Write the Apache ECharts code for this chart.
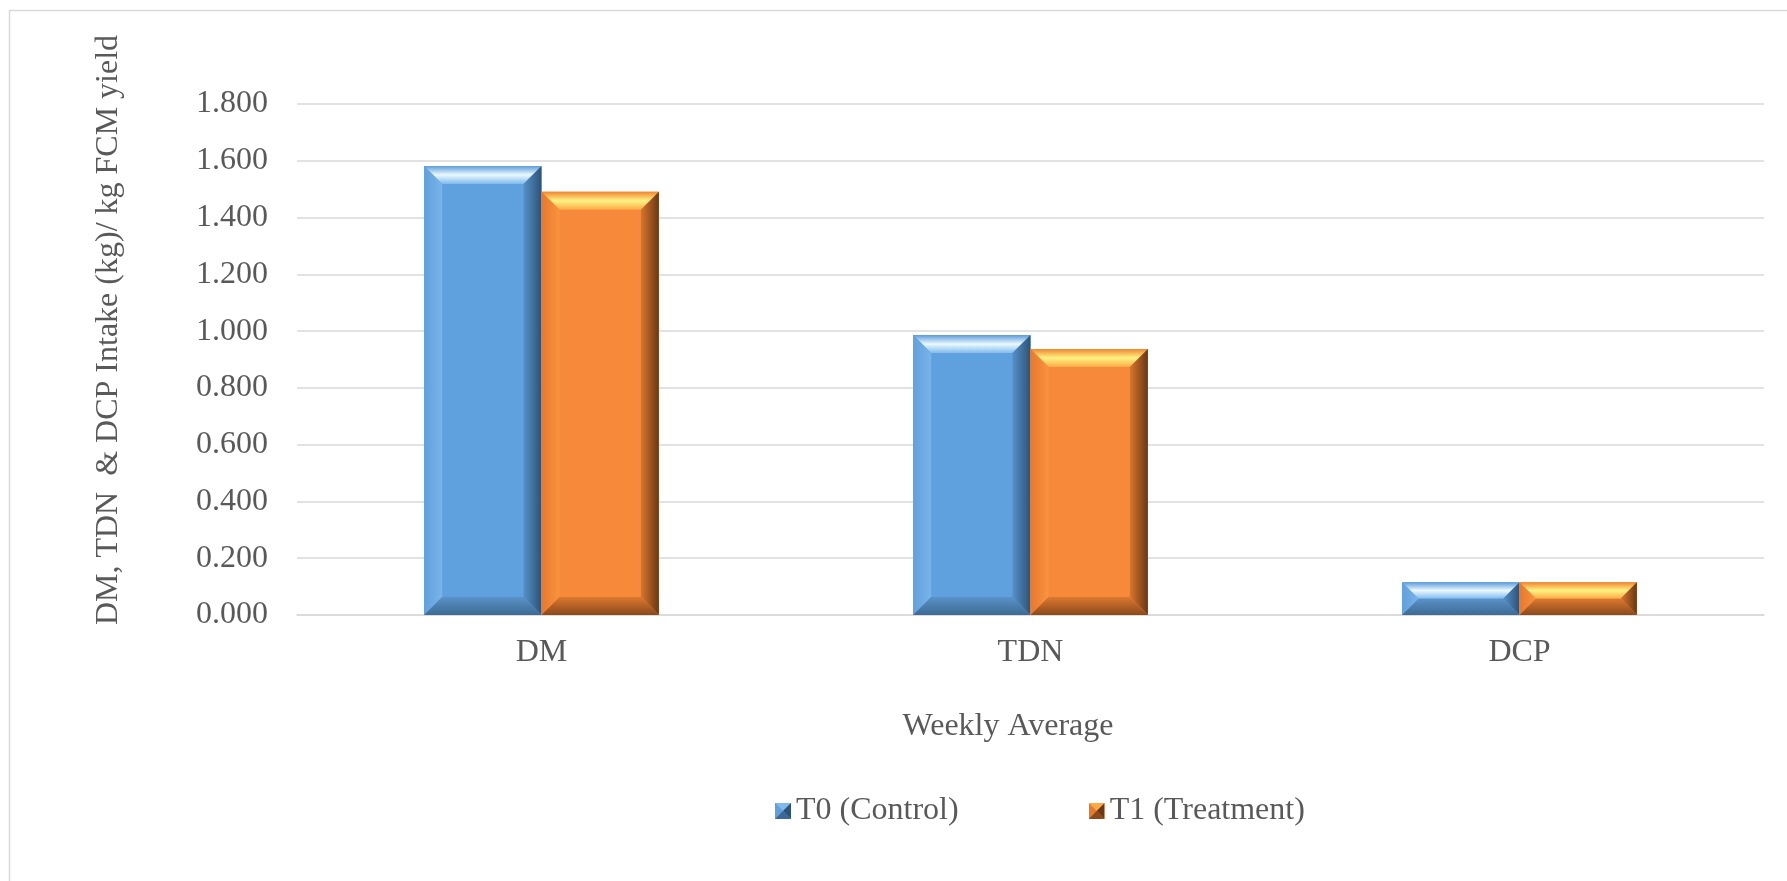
<!DOCTYPE html>
<html>
<head>
<meta charset="utf-8">
<title>DM, TDN & DCP Intake per kg FCM yield</title>
<script src="https://cdn.jsdelivr.net/npm/echarts@6/dist/echarts.min.js"></script>
<style>
  html, body { margin: 0; padding: 0; background: #ffffff; }
  #chart { width: 1787px; height: 881px; }
</style>
</head>
<body>
<div id="chart"></div>
<script>
// Nutrient intake per kg FCM yield, weekly average
const categories = ['DM', 'TDN', 'DCP'];
const seriesNames = ['T0 (Control)', 'T1 (Treatment)'];
const t0Values = [1.582, 0.986, 0.115];
const t1Values = [1.491, 0.937, 0.115];
const yTicks = [0, 0.2, 0.4, 0.6, 0.8, 1.0, 1.2, 1.4, 1.6, 1.8];

const FONT = '"Liberation Serif", "Times New Roman", serif';
const FS = 32;
const TEXT = '#595959';
const GRID = '#D9D9D9';

// Bevel palette per series: face, top, left, right, bottom
const palettes = [
  {
    face: '#5FA0DF',
    top: ['#5C9CDA', '#EAF9FF', '#80BAEC'],
    left: ['#62A0DC', '#78B4EA'],
    right: ['#5690C8', '#2C5378'],
    bottom: ['#5A92C8', '#3D6A94'],
    legend: '#5B9BD5'
  },
  {
    face: '#F7893A',
    top: ['#F08632', '#FFF283', '#FBAA45'],
    left: ['#E8782D', '#F99341'],
    right: ['#D9752E', '#6A3814'],
    bottom: ['#DD782F', '#8A4A1C'],
    legend: '#ED7D31'
  }
];

const BAR_FRAC = 0.24;   // share of a category band taken by one bar
const BEVEL = 18;

function lin(x0, y0, x1, y1, stops) {
  const n = stops.length - 1;
  return new echarts.graphic.LinearGradient(x0, y0, x1, y1,
    stops.map((c, i) => ({ offset: i / n, color: c })));
}

function makeRender(si) {
  const p = palettes[si];
  return function (params, api) {
    const idx = api.value(0);
    const v = api.value(1);
    const base = api.coord([idx, 0]);
    const top = api.coord([idx, v]);
    const band = api.size([1, 0])[0];
    const w = band * BAR_FRAC;
    const x0 = base[0] - w + si * w;
    const x1 = x0 + w;
    const yt = top[1];
    const yb = base[1];
    const h = yb - yt;
    const b = Math.min(BEVEL, h / 2, w / 2);
    return {
      type: 'group',
      children: [
        { type: 'rect', shape: { x: x0, y: yt, width: w, height: h }, style: { fill: p.face } },
        { type: 'polygon', shape: { points: [[x0, yt], [x1, yt], [x1 - b, yt + b], [x0 + b, yt + b]] },
          style: { fill: lin(0, 0, 0, 1, p.top) } },
        { type: 'polygon', shape: { points: [[x0, yt], [x0 + b, yt + b], [x0 + b, yb - b], [x0, yb]] },
          style: { fill: lin(0, 0, 1, 0, p.left) } },
        { type: 'polygon', shape: { points: [[x1, yt], [x1, yb], [x1 - b, yb - b], [x1 - b, yt + b]] },
          style: { fill: lin(0, 0, 1, 0, p.right) } },
        { type: 'polygon', shape: { points: [[x0, yb], [x0 + b, yb - b], [x1 - b, yb - b], [x1, yb]] },
          style: { fill: lin(0, 0, 0, 1, p.bottom) } }
      ]
    };
  };
}

function bevelIcon(p) {
  const svg =
    '<svg xmlns="http://www.w3.org/2000/svg" width="16" height="16">' +
    '<rect width="16" height="16" fill="' + p.face + '"/>' +
    '<polygon points="0,0 16,0 8,8" fill="' + p.top[2] + '"/>' +
    '<polygon points="0,0 8,8 0,16" fill="' + p.left[0] + '"/>' +
    '<polygon points="16,0 16,16 8,8" fill="' + p.right[1] + '"/>' +
    '<polygon points="0,16 8,8 16,16" fill="' + p.bottom[1] + '"/>' +
    '</svg>';
  return 'image://data:image/svg+xml;charset=utf-8,' + encodeURIComponent(svg);
}

const chart = echarts.init(document.getElementById('chart'), null, { renderer: 'canvas' });

const seriesData = [t0Values, t1Values].map(vals => vals.map((v, i) => [i, v]));

chart.setOption({
  backgroundColor: '#ffffff',
  animation: false,
  textStyle: { fontFamily: FONT, color: TEXT },
  grid: { left: 297, right: 23, top: 104, bottom: 266, containLabel: false },
  legend: {
    left: 770,
    top: 790,
    itemWidth: 16,
    itemHeight: 16,
    itemGap: 130,
    textStyle: { fontFamily: FONT, fontSize: FS, color: TEXT },
    data: seriesNames.map((n, i) => ({ name: n, icon: bevelIcon(palettes[i]) }))
  },
  xAxis: {
    type: 'category',
    data: categories,
    axisLine: { show: true, lineStyle: { color: GRID, width: 1.5 } },
    axisTick: { show: false },
    axisLabel: { fontFamily: FONT, fontSize: FS, color: TEXT, margin: 22 },
    splitLine: { show: false }
  },
  yAxis: {
    type: 'value',
    min: yTicks[0],
    max: yTicks[yTicks.length - 1],
    interval: yTicks[1] - yTicks[0],
    axisLine: { show: false },
    axisTick: { show: false },
    axisLabel: {
      fontFamily: FONT, fontSize: FS, color: TEXT, margin: 29,
      formatter: v => v.toFixed(3)
    },
    splitLine: { show: true, lineStyle: { color: GRID, width: 1.5 } }
  },
  graphic: [
    {
      type: 'rect', silent: true, z: -1,
      shape: { x: 9.5, y: 10.5, width: 1800, height: 900 },
      style: { fill: 'none', stroke: GRID, lineWidth: 1.5 }
    },
    {
      type: 'text', x: 109, y: 330, rotation: Math.PI / 2,
      style: {
        text: 'DM, TDN  & DCP Intake (kg)/ kg FCM yield',
        font: FS + 'px ' + FONT, fill: TEXT, align: 'center', verticalAlign: 'middle'
      }
    },
    {
      type: 'text', x: 1008, y: 727,
      style: {
        text: 'Weekly Average',
        font: FS + 'px ' + FONT, fill: TEXT, align: 'center', verticalAlign: 'middle'
      }
    }
  ],
  series: seriesNames.map((name, si) => ({
    name: name,
    type: 'custom',
    itemStyle: { color: palettes[si].legend },
    encode: { x: 0, y: 1 },
    data: seriesData[si],
    renderItem: makeRender(si)
  }))
});
</script>
</body>
</html>
